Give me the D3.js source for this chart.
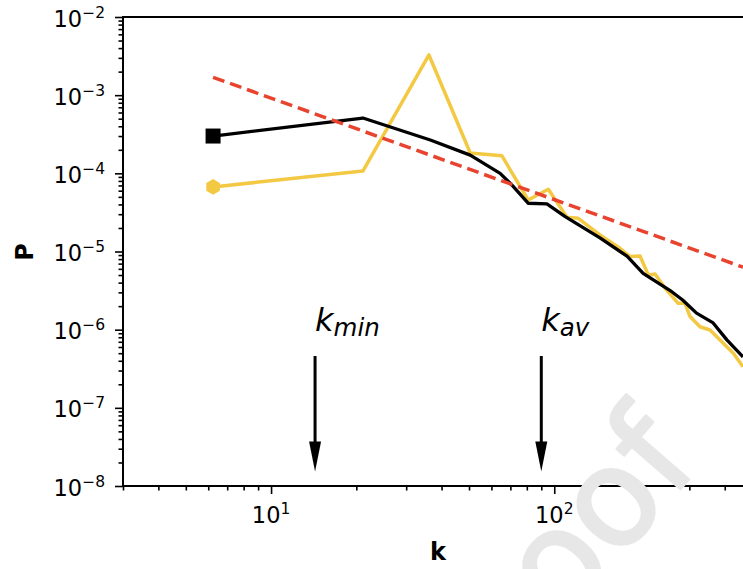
<!DOCTYPE html>
<html>
<head>
<meta charset="utf-8">
<script src="https://cdn.jsdelivr.net/npm/d3@7"></script>
<style>
  html, body { margin: 0; padding: 0; background: #fff; }
  svg { display: block; font-family: "DejaVu Sans", sans-serif; }
</style>
</head>
<body>
<svg id="chart" width="743" height="569"></svg>
<script>
// ---------- data ----------
const blackK = [6.24, 21.1, 36.5, 50.5, 64.4, 70.8, 81, 94.2, 109.3, 145, 180.7, 206, 260, 284, 318, 364, 407, 464];
const blackP = [3.0e-4, 5.1e-4, 2.67e-4, 1.71e-4, 1.0e-4, 7.1e-5, 4.14e-5, 4.06e-5, 2.79e-5, 1.49e-5, 8.7e-6, 5.26e-6, 3.06e-6, 2.4e-6, 1.63e-6, 1.22e-6, 7.4e-7, 4.5e-7];

const yellowK = [6.24, 21.1, 36.1, 50.5, 65.3, 80.9, 95.3, 110.9, 121.6, 145, 170.6, 185, 200.9, 214.8, 227, 246.4, 274, 289.5, 301.6, 327, 355, 385, 429, 464];
const yellowP = [6.7e-5, 1.07e-4, 3.27e-3, 1.82e-4, 1.68e-4, 4.56e-5, 6.25e-5, 2.74e-5, 2.66e-5, 1.63e-5, 1.10e-5, 8.6e-6, 8.77e-6, 5.0e-6, 5.16e-6, 3.38e-6, 2.17e-6, 2.17e-6, 1.47e-6, 1.09e-6, 9.9e-7, 7.4e-7, 5.0e-7, 3.36e-7];

const fitK = [6.24, 464];
const fitP = [1.69e-3, 6.3e-6];

const arrowK = [14.3, 90];
const arrowLabels = [["k", "min"], ["k", "av"]];
const arrowTopP = 4.6e-7;
const arrowTipP = 1.53e-8;

const yMajor = [1e-2, 1e-3, 1e-4, 1e-5, 1e-6, 1e-7, 1e-8];
const yMajorExp = ["\u22122", "\u22123", "\u22124", "\u22125", "\u22126", "\u22127", "\u22128"];
const xMajor = [10, 100];
const xMajorExp = ["1", "2"];
const xMinor = [3, 4, 5, 6, 7, 8, 9, 20, 30, 40, 50, 60, 70, 80, 90, 200, 300, 400];
const xLabel = "k";
const yLabel = "P";
const watermark = "proof";

// ---------- scales ----------
const pLeft = 123, pRight = 743, pTop = 17, pBottom = 486;
const x = d3.scaleLog().domain([3, 464]).range([pLeft, pRight]);
const y = d3.scaleLog().domain([1e-8, 1e-2]).range([pBottom, pTop]);

const yMinor = [];
for (let e = -8; e < -2; e++) for (let m = 2; m <= 9; m++) yMinor.push(m * Math.pow(10, e));

const svg = d3.select("#chart");

svg.append("defs").append("clipPath").attr("id", "plotclip")
  .append("rect").attr("x", pLeft).attr("y", pTop).attr("width", pRight - pLeft).attr("height", pBottom - pTop);

// ---------- axes ----------
function styleAxis(g) {
  g.select(".domain").remove();
  g.selectAll(".tick line").attr("stroke", "#000").attr("stroke-width", 1.6);
}
svg.append("g").attr("transform", `translate(${pLeft},0)`)
  .call(d3.axisLeft(y).tickValues(yMajor).tickSize(8).tickFormat(() => "")).call(styleAxis);
svg.append("g").attr("transform", `translate(${pLeft},0)`)
  .call(d3.axisLeft(y).tickValues(yMinor).tickSize(4.5).tickFormat(() => "")).call(styleAxis);
svg.append("g").attr("transform", `translate(0,${pBottom})`)
  .call(d3.axisBottom(x).tickValues(xMajor).tickSize(8).tickFormat(() => "")).call(styleAxis);
svg.append("g").attr("transform", `translate(0,${pBottom})`)
  .call(d3.axisBottom(x).tickValues(xMinor).tickSize(4.5).tickFormat(() => "")).call(styleAxis);

// y tick labels
yMajor.forEach((v, i) => {
  const t = svg.append("text").attr("x", pLeft - 18).attr("y", y(v) + 9.5)
    .attr("text-anchor", "end").attr("font-size", 22.5).attr("fill", "#000");
  t.append("tspan").text("10");
  t.append("tspan").attr("font-size", 15.5).attr("dy", -9).text(yMajorExp[i]);
});
// x tick labels
xMajor.forEach((v, i) => {
  const t = svg.append("text").attr("x", x(v)).attr("y", pBottom + 37)
    .attr("text-anchor", "middle").attr("font-size", 22.5).attr("fill", "#000");
  t.append("tspan").text("10");
  t.append("tspan").attr("font-size", 15.5).attr("dy", -9).text(xMajorExp[i]);
});

// axis labels
svg.append("text").attr("x", 438).attr("y", 560).attr("text-anchor", "middle")
  .attr("font-size", 24).attr("font-weight", "bold").text(xLabel);
svg.append("text").attr("transform", `translate(33,252) rotate(-90)`).attr("text-anchor", "middle")
  .attr("font-size", 24).attr("font-weight", "bold").text(yLabel);

// ---------- plot ----------
const plot = svg.append("g").attr("clip-path", "url(#plotclip)");
const line = d3.line().x(d => x(d[0])).y(d => y(d[1]));

plot.append("path").datum(yellowK.map((k, i) => [k, yellowP[i]]))
  .attr("d", line).attr("fill", "none").attr("stroke", "#f3c944").attr("stroke-width", 3.5)
  .attr("stroke-linejoin", "round");
plot.append("path").datum(blackK.map((k, i) => [k, blackP[i]]))
  .attr("d", line).attr("fill", "none").attr("stroke", "#000").attr("stroke-width", 3.3)
  .attr("stroke-linejoin", "round");
plot.append("path").datum(fitK.map((k, i) => [k, fitP[i]]))
  .attr("d", line).attr("fill", "none").attr("stroke", "#e8432f").attr("stroke-width", 3.5)
  .attr("stroke-dasharray", "12,6");

// markers
const hex = d3.symbol().type({
  draw(ctx, size) {
    const r = Math.sqrt(size / (1.5 * Math.sqrt(3)));
    for (let i = 0; i < 6; i++) {
      const a = Math.PI / 2 + i * Math.PI / 3;
      const px = r * Math.cos(a), py = r * Math.sin(a);
      i ? ctx.lineTo(px, py) : ctx.moveTo(px, py);
    }
    ctx.closePath();
  }
}).size(160);
svg.append("path").attr("d", hex)
  .attr("transform", `translate(${x(yellowK[0])},${y(yellowP[0])})`).attr("fill", "#f3c944");
svg.append("rect")
  .attr("x", x(blackK[0]) - 7.5).attr("y", y(blackP[0]) - 7.5)
  .attr("width", 15).attr("height", 15).attr("fill", "#000");

// arrows + labels
arrowK.forEach((k, i) => {
  const ax = x(k), y0 = y(arrowTopP), y1 = y(arrowTipP);
  svg.append("line").attr("x1", ax).attr("x2", ax).attr("y1", y0).attr("y2", y1 - 25)
    .attr("stroke", "#000").attr("stroke-width", 3);
  svg.append("path")
    .attr("d", `M${ax - 6},${y1 - 30} L${ax + 6},${y1 - 30} L${ax},${y1} Z`)
    .attr("fill", "#000");
  const t = svg.append("text").attr("x", ax + 0).attr("y", y0 - 25)
    .attr("font-size", 32).attr("font-style", "italic").attr("fill", "#000");
  t.append("tspan").text(arrowLabels[i][0]);
  t.append("tspan").attr("font-size", 24.5).attr("dy", 4.5).text(arrowLabels[i][1]);
});

// spines
svg.append("line").attr("x1", pLeft).attr("x2", pLeft).attr("y1", pTop).attr("y2", pBottom)
  .attr("stroke", "#000").attr("stroke-width", 2);
svg.append("line").attr("x1", pLeft - 1).attr("x2", pRight).attr("y1", pBottom).attr("y2", pBottom)
  .attr("stroke", "#000").attr("stroke-width", 2);
svg.append("line").attr("x1", pLeft - 1).attr("x2", pRight).attr("y1", pTop).attr("y2", pTop)
  .attr("stroke", "#000").attr("stroke-width", 2);

// watermark
svg.append("text").attr("transform", "translate(702,464) rotate(-49)")
  .attr("text-anchor", "end").attr("font-size", 135).attr("fill", "#e7e7e7")
  .attr("stroke", "#e7e7e7").attr("stroke-width", 3).attr("stroke-linejoin", "round")
  .text(watermark);
</script>
</body>
</html>
